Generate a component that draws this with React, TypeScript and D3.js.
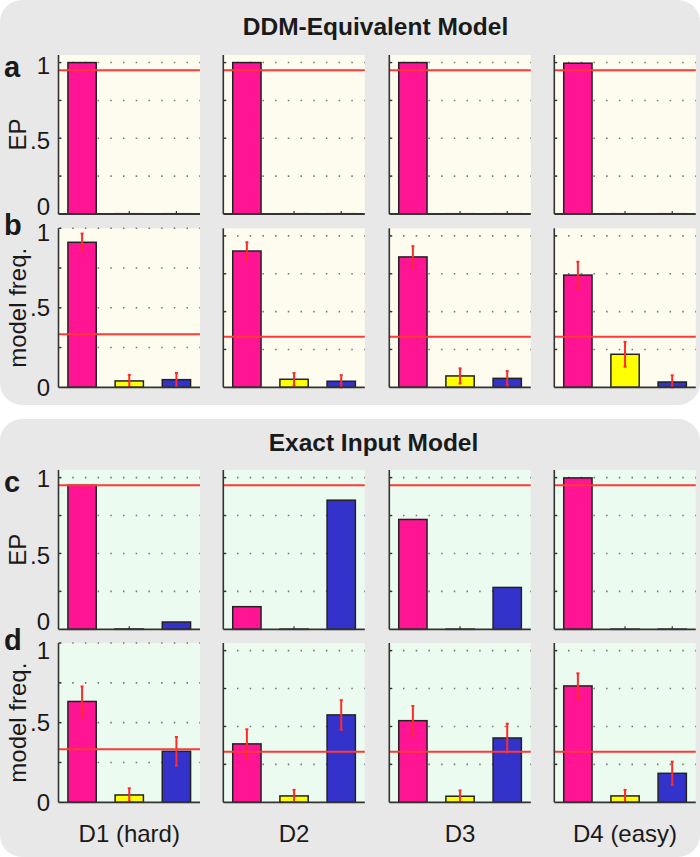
import React from "react";
import * as d3 from "d3";

const categories = ["D1 (hard)", "D2", "D3", "D4 (easy)"];
const modelColors = ["#ff1493", "#ffff00", "#3333cc"];

// Row a: exceedance probability, DDM-equivalent model
const epDDM = [
  [1.0, 0.002, 0.002],
  [1.0, 0.002, 0.002],
  [1.0, 0.002, 0.002],
  [0.996, 0.002, 0.002],
];
// Row b: model frequency, DDM-equivalent model
const freqDDM = [
  [0.912, 0.04, 0.048],
  [0.9, 0.053, 0.04],
  [0.861, 0.075, 0.059],
  [0.741, 0.218, 0.035],
];
const freqDDMErr = [
  [0.055, 0.038, 0.042],
  [0.058, 0.041, 0.04],
  [0.071, 0.05, 0.048],
  [0.088, 0.082, 0.044],
];
// Row c: exceedance probability, exact input model
const epExact = [
  [0.95, 0.002, 0.048],
  [0.149, 0.001, 0.851],
  [0.724, 0.001, 0.276],
  [0.998, 0.001, 0.001],
];
// Row d: model frequency, exact input model
const freqExact = [
  [0.633, 0.046, 0.32],
  [0.385, 0.042, 0.576],
  [0.538, 0.04, 0.424],
  [0.767, 0.042, 0.191],
];
const freqExactErr = [
  [0.094, 0.042, 0.09],
  [0.096, 0.04, 0.097],
  [0.097, 0.038, 0.094],
  [0.083, 0.04, 0.077],
];

const yTickValues = [0, 0.5, 1];
const yTickLabels = ["0", ".5", "1"];
const gridValues = [0.25, 0.5, 0.75, 1];

const FONT = "'Liberation Sans', Arial, Helvetica, sans-serif";

const colLeft = [58.5, 223.3, 389.3, 554.3];
const panelW = 141.5;

type RowSpec = {
  letter: string;
  top: number;
  bottom: number;
  ylabel: string;
  values: number[][];
  err: number[][] | null;
  ref: number;
  bg: string;
  ymax: number[];
  labelShift: number[];
};

const rows: RowSpec[] = [
  { letter: "a", top: 55, bottom: 214, ylabel: "EP", values: epDDM, err: null, ref: 0.95, bg: "#fdfcee", ymax: [1.05, 1.05, 1.05, 1.05], labelShift: [-8, 2, 3] },
  { letter: "b", top: 228.3, bottom: 387.3, ylabel: "model freq.", values: freqDDM, err: freqDDMErr, ref: 1 / 3, bg: "#fdfcee", ymax: [1.0, 1.05, 1.05, 1.05], labelShift: [0, 0, 4] },
  { letter: "c", top: 470, bottom: 629.3, ylabel: "EP", values: epExact, err: null, ref: 0.95, bg: "#ebfbef", ymax: [1.05, 1.05, 1.05, 1.05], labelShift: [-8, 2, 1] },
  { letter: "d", top: 643, bottom: 802.3, ylabel: "model freq.", values: freqExact, err: freqExactErr, ref: 1 / 3, bg: "#ebfbef", ymax: [1.0, 1.05, 1.05, 1.05], labelShift: [0, 0, 7] },
];

function Panel({ row, ci }: { row: RowSpec; ci: number }) {
  const x0 = colLeft[ci];
  const x = d3.scaleLinear().domain([0.5, 3.5]).range([x0, x0 + panelW]);
  const y = d3.scaleLinear().domain([0, row.ymax[ci]]).range([row.bottom, row.top]);
  const bw = x(1.3) - x(0.7);
  const vals = row.values[ci];
  const errs = row.err ? row.err[ci] : null;
  return (
    <g>
      <rect x={x0} y={row.top} width={panelW} height={row.bottom - row.top} fill={row.bg} />
      {gridValues.map((g) => (
        <line key={"g" + g} x1={x0 + 1} x2={x0 + panelW} y1={y(g)} y2={y(g)} stroke="#777" strokeWidth={1.6} strokeDasharray="1.5 11.2" />
      ))}
      {gridValues.map((g) => (
        <line key={"t" + g} x1={x0} x2={x0 + 3} y1={y(g)} y2={y(g)} stroke="#333" strokeWidth={1.2} />
      ))}
      {vals.map((v, i) => (
        <line key={"bt" + i} x1={x(i + 1)} x2={x(i + 1)} y1={row.bottom} y2={row.bottom - 3} stroke="#333" strokeWidth={1.2} />
      ))}
      {vals.map((v, i) => (
        <rect key={"b" + i} x={x(i + 1) - bw / 2} y={y(v)} width={bw} height={Math.max(0, y(0) - y(v))} fill={modelColors[i]} stroke="#222" strokeWidth={1.5} />
      ))}
      {errs &&
        vals.map((v, i) => {
          const lo = y(Math.max(0, v - errs[i]));
          const hi = y(v + errs[i]);
          const cx = x(i + 1);
          return (
            <g key={"e" + i} stroke="#ff2a2a" strokeWidth={2}>
              <line x1={cx} x2={cx} y1={lo} y2={hi} />
              <line x1={cx - 1.5} x2={cx + 1.5} y1={hi} y2={hi} />
              <line x1={cx - 1.5} x2={cx + 1.5} y1={lo} y2={lo} />
            </g>
          );
        })}
      <line x1={x0} x2={x0 + panelW} y1={y(row.ref)} y2={y(row.ref)} stroke="#ff3838" strokeWidth={2} />
      <line x1={x0} x2={x0} y1={row.top} y2={row.bottom} stroke="#333" strokeWidth={1.6} />
      <line x1={x0} x2={x0 + panelW} y1={row.bottom} y2={row.bottom} stroke="#333" strokeWidth={1.8} />
      {ci === 0 &&
        yTickValues.map((t, k) => (
          <text key={"yl" + k} x={50} y={y(t) + row.labelShift[k]} dy="0.36em" textAnchor="end" fontSize={24} fontFamily={FONT} fill="#1a1a1a">
            {yTickLabels[k]}
          </text>
        ))}
    </g>
  );
}

export default function App() {
  return (
    <svg width={700} height={857} style={{ position: "absolute", left: 0, top: 0, background: "#fff" }}>
      <rect x={0} y={0} width={700} height={405} rx={22} fill="#e8e8e8" />
      <rect x={0} y={419} width={700} height={438} rx={22} fill="#e8e8e8" />
      <text x={375.5} y={35} textAnchor="middle" fontSize={24.5} fontWeight="bold" fontFamily={FONT} fill="#1a1a1a">
        DDM-Equivalent Model
      </text>
      <text x={373.5} y={451} textAnchor="middle" fontSize={24.5} fontWeight="bold" fontFamily={FONT} fill="#1a1a1a">
        Exact Input Model
      </text>
      {rows.map((row) => (
        <g key={row.letter}>
          {categories.map((c, ci) => (
            <Panel key={c} row={row} ci={ci} />
          ))}
          <text x={4} y={row.top + (row.letter === "a" || row.letter === "c" ? 22 : 7)} fontSize={29} fontWeight="bold" fontFamily={FONT} fill="#1a1a1a">
            {row.letter}
          </text>
          <text transform={`translate(25.5,${(row.top + row.bottom) / 2}) rotate(-90)`} textAnchor="middle" fontSize={24} fontFamily={FONT} fill="#1a1a1a">
            {row.ylabel}
          </text>
        </g>
      ))}
      {categories.map((c, ci) => (
        <text key={c} x={colLeft[ci] + panelW / 2} y={842} textAnchor="middle" fontSize={24} fontFamily={FONT} fill="#1a1a1a">
          {c}
        </text>
      ))}
    </svg>
  );
}
